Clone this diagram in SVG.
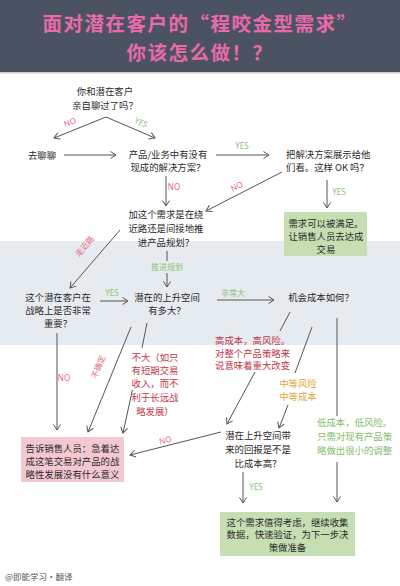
<svg xmlns="http://www.w3.org/2000/svg" width="400" height="586" viewBox="0 0 400 586">
<style>
.t{font-family:"Noto Sans CJK SC","Noto Sans",sans-serif;font-size:9.4px;fill:#2a2a2a}
.m{text-anchor:middle}
.red{fill:#c0394c}
.org{fill:#e3a43a}
.grn{fill:#7fbf6a}
.lab{font-family:"Noto Sans","Noto Sans CJK SC",sans-serif;font-size:8px;text-anchor:middle}
.ly{fill:#8cc27a}
.ln{fill:#e0697e}
.c{stroke:#555;stroke-width:1;fill:none}
.title{font-family:"Noto Sans CJK SC",sans-serif;font-size:19.5px;letter-spacing:1.5px;font-weight:bold;fill:#ea6aa9;text-anchor:middle}
</style>
<defs>
<marker id="a" markerWidth="8" markerHeight="8" refX="6.5" refY="4" orient="auto" markerUnits="userSpaceOnUse">
<path d="M1,0.5 L6.5,4 L1,7.5" fill="none" stroke="#555" stroke-width="1"/>
</marker>
</defs>
<rect width="400" height="586" fill="#ffffff"/>
<rect x="0" y="241" width="400" height="104" fill="#e6ebef"/>
<g id="title">
<rect x="0" y="0" width="400" height="72" fill="#4b5363"/>
<rect x="0" y="72" width="400" height="1.5" fill="#c9ccd2"/>
<text class="title" x="200" y="31">面对潜在客户的“程咬金型需求”</text>
<text class="title" x="200" y="60">你该怎么做！？</text>
</g>
<g id="connectors">
<path class="c" d="M106,117 L54,138" marker-end="url(#a)"/>
<path class="c" d="M106,117 L155,138" marker-end="url(#a)"/>
<path class="c" d="M64,155 L116,155" marker-end="url(#a)"/>
<path class="c" d="M216,155 L269,155" marker-end="url(#a)"/>
<path class="c" d="M282,172 L206,211" marker-end="url(#a)"/>
<path class="c" d="M327,180 L327,208" marker-end="url(#a)"/>
<path class="c" d="M166,176 L166,206" marker-end="url(#a)"/>
<path class="c" d="M120,230 L70,288" marker-end="url(#a)"/>
<path class="c" d="M167,251 L167,261"/>
<path class="c" d="M167,273 L167,287" marker-end="url(#a)"/>
<path class="c" d="M100,301 L128,301" marker-end="url(#a)"/>
<path class="c" d="M217,300 L274,300" marker-end="url(#a)"/>
<path class="c" d="M57,333 L57,430" marker-end="url(#a)"/>
<path class="c" d="M131,327 L88,432" marker-end="url(#a)"/>
<path class="c" d="M147,323 L142,348"/>
<path class="c" d="M132.4,390 L123,433" marker-end="url(#a)"/>
<path class="c" d="M290,312 L280,331"/>
<path class="c" d="M255,372 L227,424" marker-end="url(#a)"/>
<path class="c" d="M312,327 L295,373"/>
<path class="c" d="M288,405 L279,428" marker-end="url(#a)"/>
<path class="c" d="M337,318 L337,416"/>
<path class="c" d="M337,462 L337,502" marker-end="url(#a)"/>
<path class="c" d="M221,432 L130,455" marker-end="url(#a)"/>
<path class="c" d="M243,472 L243,503" marker-end="url(#a)"/>
<text class="lab ln" transform="translate(71,125) rotate(-22)">NO</text>
<text class="lab ly" transform="translate(140,125) rotate(23)">YES</text>
<text class="lab ly" x="242" y="149">YES</text>
<text class="lab ln" transform="translate(238,189) rotate(-27)">NO</text>
<text class="lab ly" x="339" y="195">YES</text>
<text class="lab ln" x="174" y="190">NO</text>
<text class="lab ln" transform="translate(87,248) rotate(-50)" style="font-family:'Noto Sans CJK SC',sans-serif">走近路</text>
<text class="lab ly" x="167" y="270" style="font-family:'Noto Sans CJK SC',sans-serif">推进规划</text>
<text class="lab ly" x="112" y="296">YES</text>
<text class="lab ly" x="233" y="296" style="font-family:'Noto Sans CJK SC',sans-serif">非常大</text>
<text class="lab ln" x="64" y="381">NO</text>
<text class="lab ln" transform="translate(101,368) rotate(-68)" style="font-family:'Noto Sans CJK SC',sans-serif">不确定</text>
<text class="lab ln" transform="translate(166,443) rotate(-14)">NO</text>
<text class="lab ly" x="256" y="490">YES</text>
</g>
<g id="n1"><text class="t m" x="105" y="94.5">你和潜在客户</text><text class="t m" x="105" y="108.5">亲自聊过了吗？</text></g>
<g id="n2"><text class="t m" x="42" y="158.5">去聊聊</text></g>
<g id="n3"><text class="t m" x="168" y="157.5">产品/业务中有没有</text><text class="t m" x="168" y="170.5">现成的解决方案？</text></g>
<g id="n4"><text class="t" x="286" y="157.5">把解决方案展示给他</text><text class="t" x="286" y="170.5">们看。这样 OK 吗？</text></g>
<g id="n5"><rect x="284" y="212" width="83" height="44" fill="#c6dfb2"/><text class="t m" x="326" y="226.5">需求可以被满足。</text><text class="t m" x="326" y="239.5">让销售人员去达成</text><text class="t m" x="326" y="252.5">交易</text></g>
<g id="n6"><text class="t m" x="166" y="217.5">加这个需求是在绕</text><text class="t m" x="166" y="231.5">近路还是间接地推</text><text class="t m" x="166" y="245.5">进产品规划？</text></g>
<g id="n7"><text class="t m" x="58" y="300.5">这个潜在客户在</text><text class="t m" x="58" y="313.5">战略上是否非常</text><text class="t m" x="58" y="326.5">重要？</text></g>
<g id="n8"><text class="t m" x="167" y="300.5">潜在的上升空间</text><text class="t m" x="167" y="313.5">有多大？</text></g>
<g id="n9"><text class="t m" x="321" y="300.5">机会成本如何？</text></g>
<g id="n10"><text class="t m red" x="155" y="360.5">不大（如只</text><text class="t m red" x="155" y="373.5">有短期交易</text><text class="t m red" x="155" y="386.5">收入，而不</text><text class="t m red" x="155" y="400.5">利于长远战</text><text class="t m red" x="155" y="414.5">略发展）</text></g>
<g id="n11"><text class="t red" x="215" y="343.5">高成本，高风险。</text><text class="t red" x="215" y="356.5">对整个产品策略来</text><text class="t red" x="215" y="369">说意味着重大改变</text></g>
<g id="n12"><text class="t m org" x="298" y="386.5">中等风险</text><text class="t m org" x="298" y="399.5">中等成本</text></g>
<g id="n13"><text class="t grn" x="317" y="425.5">低成本，低风险。</text><text class="t grn" x="317" y="439.5">只需对现有产品策</text><text class="t grn" x="317" y="453.5">略做出很小的调整</text></g>
<g id="n14"><text class="t m" x="258" y="438.5">潜在上升空间带</text><text class="t m" x="258" y="452.5">来的回报是不是</text><text class="t m" x="258" y="466.5">比成本高？</text></g>
<g id="n15"><rect x="21" y="437" width="103" height="45" fill="#f4c8d0"/><text class="t m" x="72.5" y="451.5">告诉销售人员：急着达</text><text class="t m" x="72.5" y="464.5">成这笔交易对产品的战</text><text class="t m" x="72.5" y="477.5">略性发展没有什么意义</text></g>
<g id="n16"><rect x="220" y="512" width="135" height="44" fill="#c6dfb2"/><text class="t m" x="287.5" y="525.5">这个需求值得考虑，继续收集</text><text class="t m" x="287.5" y="538">数据，快速验证，为下一步决</text><text class="t m" x="287.5" y="550.5">策做准备</text></g>
<g id="footer"><text x="5" y="580" style="font-family:'Noto Sans CJK SC',sans-serif;font-size:8.5px;fill:#555">@即能学习·翻译</text></g>
</svg>
